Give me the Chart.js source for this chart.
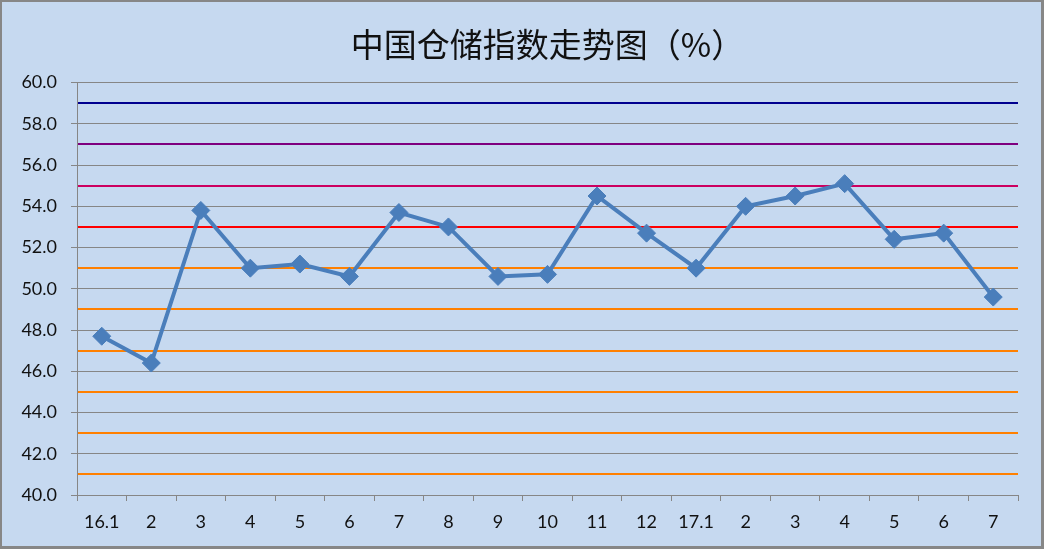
<!DOCTYPE html>
<html>
<head>
<meta charset="utf-8">
<script src="https://cdn.jsdelivr.net/npm/chart.js@4"></script>
<style>
  html, body { margin: 0; padding: 0; background: #ffffff; }
  #wrap {
    width: 1044px; height: 549px; box-sizing: border-box;
    border-top: 2px solid #878787; border-left: 2px solid #878787;
    border-right: 3px solid #878787; border-bottom: 3px solid #878787;
    background: #c6d9f0;
  }
  #c { display: block; }
</style>
</head>
<body>
<div id="wrap"><canvas id="c" width="1039" height="544"></canvas></div>
<script>
const titleText = '中国仓储指数走势图（%）';
const categories = ['16.1','2','3','4','5','6','7','8','9','10','11','12','17.1','2','3','4','5','6','7'];
const indexValues = [47.7, 46.4, 53.8, 51.0, 51.2, 50.6, 53.7, 53.0, 50.6, 50.7, 54.5, 52.7, 51.0, 54.0, 54.5, 55.1, 52.4, 52.7, 49.6];
const yMin = 40, yMax = 60;
// reference lines (odd values) and their colours
const refLineValues = [59, 57, 55, 53, 51, 49, 47, 45, 43, 41];
const refLineColors = ['#00008f', '#7f007f', '#cc0060', '#ff0000', '#ff8000', '#ff8000', '#ff8000', '#ff8000', '#ff8000', '#ff8000'];

const GRAY = '#868686';
function refColor(v) {
  const i = refLineValues.indexOf(v);
  return i >= 0 ? refLineColors[i] : null;
}

new Chart(document.getElementById('c'), {
  type: 'line',
  data: {
    labels: categories,
    datasets: [{
      data: indexValues,
      borderColor: '#4a7ebb',
      backgroundColor: '#4a7ebb',
      borderWidth: 4,
      pointStyle: 'rectRot',
      pointRadius: 9,
      pointBorderWidth: 1,
      pointBackgroundColor: '#4a7ebb',
      pointBorderColor: '#4a7ebb',
      tension: 0,
      fill: false
    }]
  },
  options: {
    responsive: false,
    animation: false,
    layout: { padding: { left: 0, right: 23, top: 0, bottom: 0 } },
    plugins: {
      legend: { display: false },
      tooltip: { enabled: false },
      title: {
        display: true,
        fullSize: false,
        text: titleText,
        color: '#111111',
        font: { family: '"Noto Sans CJK SC"', size: 33, weight: 'normal', lineHeight: 1.2 },
        padding: { top: 23, bottom: 18 }
      }
    },
    scales: {
      x: {
        offset: true,
        grid: {
          offset: true,
          drawOnChartArea: false,
          drawTicks: true,
          tickLength: 6,
          color: GRAY,
          lineWidth: 1
        },
        border: { display: true, color: GRAY, width: 1 },
        ticks: {
          color: '#111111',
          font: { family: 'Lato', size: 18 },
          padding: 10,
          maxRotation: 0,
          autoSkip: false
        },
        afterFit: (s) => { s.height = 51; }
      },
      y: {
        min: yMin,
        max: yMax,
        grid: {
          drawTicks: true,
          tickLength: 6,
          color: (ctx) => {
            const v = ctx.tick ? ctx.tick.value : null;
            const rc = refColor(v);
            return rc ? rc : GRAY;
          },
          lineWidth: (ctx) => {
            const v = ctx.tick ? ctx.tick.value : null;
            return refColor(v) ? 2 : 1;
          },
          tickColor: (ctx) => {
            const v = ctx.tick ? ctx.tick.value : null;
            return (v % 2 === 0) ? GRAY : 'rgba(0,0,0,0)';
          },
          tickWidth: 1
        },
        border: { display: true, color: GRAY, width: 1 },
        ticks: {
          stepSize: 1,
          autoSkip: false,
          color: '#111111',
          font: { family: 'Lato', size: 18 },
          padding: 14,
          callback: (v) => (v % 2 === 0 ? Number(v).toFixed(1) : '')
        },
        afterFit: (s) => { s.width = 75; }
      }
    }
  }
});
</script>
</body>
</html>
